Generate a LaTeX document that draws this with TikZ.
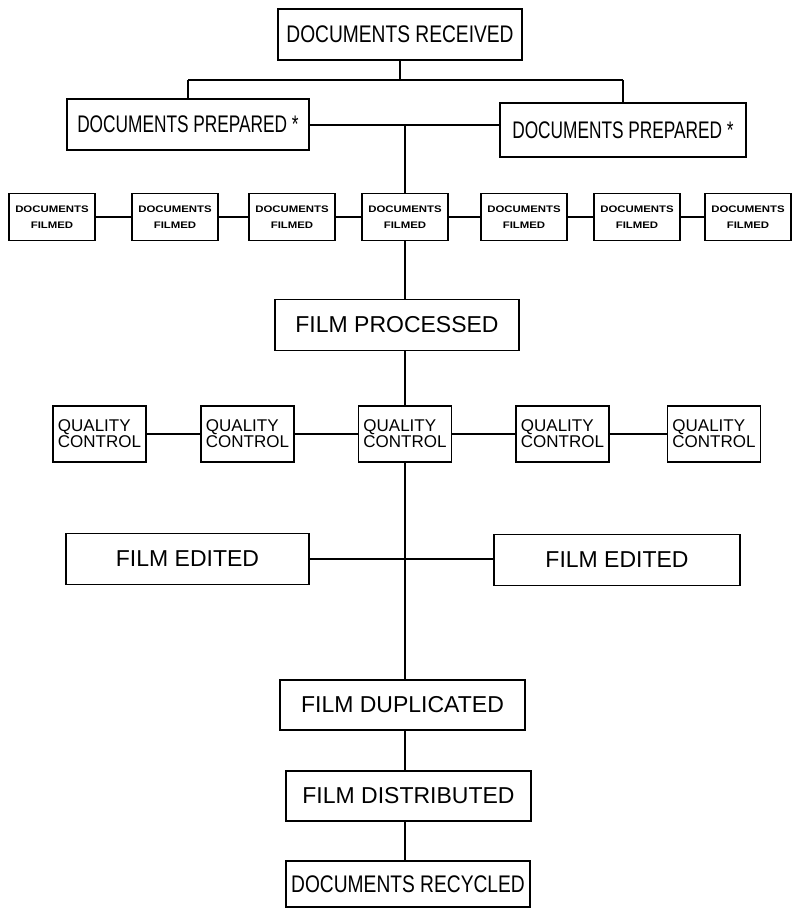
\documentclass[tikz,border=0pt]{standalone}
\usepackage{fontspec}
\setmainfont{Liberation Sans}
\newfontfamily\narrowfont[FakeStretch=0.8]{Liberation Sans}
\newfontfamily\narrowerfont[FakeStretch=0.72]{Liberation Sans}
\newfontfamily\widefont[FakeStretch=1.2]{Liberation Sans}
\usetikzlibrary{positioning,calc}

\begin{document}
\begin{tikzpicture}[x=1pt,y=-1pt,line width=1.6pt]
\tikzstyle{bx} = [draw,fill=white,shape=rectangle,minimum width=244pt,minimum height=51pt,inner sep=0pt,font=\fontsize{23}{26}\selectfont]
\tikzstyle{bxn} = [bx,font=\narrowfont\fontsize{24}{26}\selectfont]
\tikzstyle{bxp} = [bx,font=\narrowerfont\fontsize{24}{26}\selectfont]
\tikzstyle{fb} = [draw,fill=white,shape=rectangle,minimum width=86pt,minimum height=47pt,inner sep=0pt,align=center,font=\widefont\bfseries\fontsize{9.5}{16}\selectfont]
\tikzstyle{qb} = [draw,fill=white,shape=rectangle,minimum width=93pt,minimum height=56pt,inner sep=0pt,align=left,font=\fontsize{17}{15}\selectfont]
\useasboundingbox (0,0) rectangle (792,909);
% top of the tree
\node[bxn] (rec) at (400,34.5) {DOCUMENTS RECEIVED};
\node[bxp,minimum width=242pt] (prepL) at (188,124.5) {DOCUMENTS PREPARED *};
\node[bxp,minimum width=246pt,minimum height=54pt] (prepR) at (623,130) {DOCUMENTS PREPARED *};
\coordinate (top) at (404,80);
\coordinate (mid) at (405,125);
\draw (rec.south) -- (rec.south |- top);
\draw (top -| prepL.north) -- (top -| prepR.north);
\draw (top -| prepL.north) -- (prepL.north);
\draw (top -| prepR.north) -- (prepR.north);
\draw (prepL.east |- mid) -- (mid -| prepR.west);
% filming
\node[fb] (f1) at (52,217) {DOCUMENTS\\FILMED};
\node[fb] (f2) at (175,217) {DOCUMENTS\\FILMED};
\node[fb] (f3) at (292,217) {DOCUMENTS\\FILMED};
\node[fb] (f4) at (405,217) {DOCUMENTS\\FILMED};
\node[fb] (f5) at (524,217) {DOCUMENTS\\FILMED};
\node[fb] (f6) at (637,217) {DOCUMENTS\\FILMED};
\node[fb] (f7) at (748,217) {DOCUMENTS\\FILMED};
\draw (mid) -- (f4.north);
\draw (f1) -- (f2);
\draw (f2) -- (f3);
\draw (f3) -- (f4);
\draw (f4) -- (f5);
\draw (f5) -- (f6);
\draw (f6) -- (f7);
\node[bx] (proc) at (397,325) {FILM PROCESSED};
\draw (f4.south) -- (f4.south |- proc.north);
% quality control
\node[qb] (q1) at (99.5,434) {QUALITY\\CONTROL};
\node[qb] (q2) at (247.5,434) {QUALITY\\CONTROL};
\node[qb] (q3) at (405,434) {QUALITY\\CONTROL};
\node[qb] (q4) at (562.5,434) {QUALITY\\CONTROL};
\node[qb] (q5) at (714,434) {QUALITY\\CONTROL};
\draw (proc.south -| q3.north) -- (q3.north);
\draw (q1) -- (q2);
\draw (q2) -- (q3);
\draw (q3) -- (q4);
\draw (q4) -- (q5);
% editing and after
\node[bx,minimum width=243pt] (edL) at (187.5,559) {FILM EDITED};
\node[bx,minimum width=246pt] (edR) at (617,560) {FILM EDITED};
\node[bx,minimum width=245pt,minimum height=50pt] (dup) at (402.5,705) {FILM DUPLICATED};
\node[bx,minimum width=245pt,minimum height=50pt] (dist) at (408.5,796) {FILM DISTRIBUTED};
\node[bxn,minimum width=244pt,minimum height=46pt] (rcy) at (408,884) {DOCUMENTS RECYCLED};
\draw (edL.east) -- (edL.east -| edR.west);
\draw (q3.south) -- (q3.south |- dup.north);
\draw (dup.south -| q3.south) -- (dist.north -| q3.south);
\draw (dist.south -| q3.south) -- (rcy.north -| q3.south);
\end{tikzpicture}
\end{document}
